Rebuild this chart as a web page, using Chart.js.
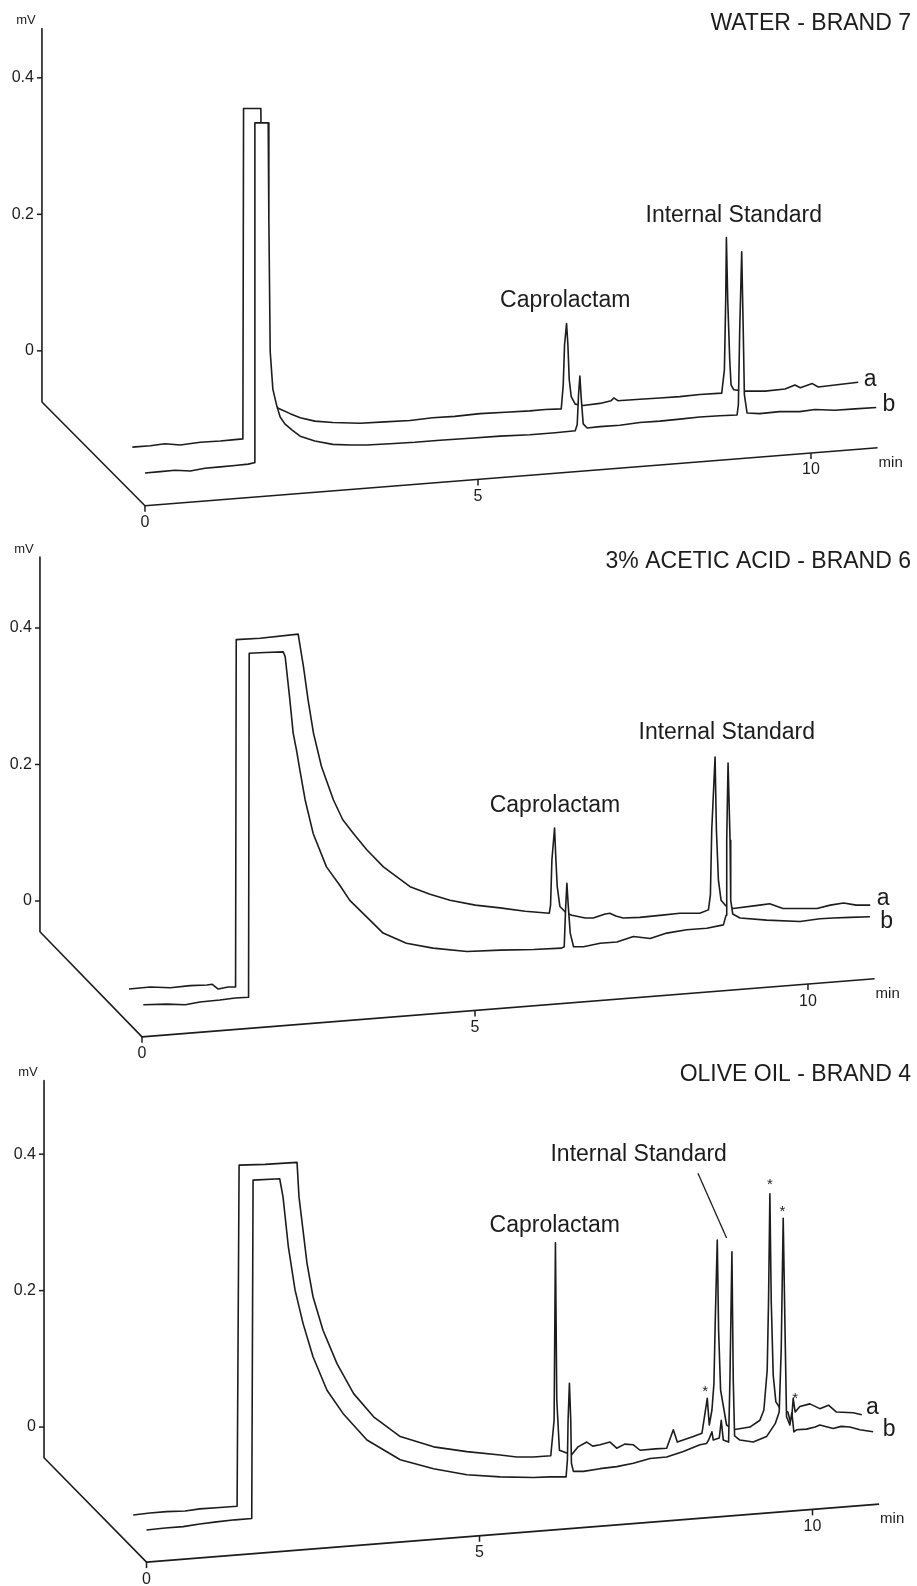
<!DOCTYPE html>
<html>
<head>
<meta charset="utf-8">
<script src="https://cdn.jsdelivr.net/npm/chart.js@4.4.0/dist/chart.umd.min.js"></script>
<style>
  html, body { margin: 0; padding: 0; background: #fff; }
  .panel { position: relative; width: 917px; }
</style>
</head>
<body>
<div class="panel" style="height:529px"><canvas id="c1"></canvas></div>
<div class="panel" style="height:529px"><canvas id="c2"></canvas></div>
<div class="panel" style="height:528px"><canvas id="c3"></canvas></div>
<script>
// chromatograms a / b, three food simulants
const INK = '#1c1c1c';
const FONT = "'Liberation Sans', Arial, Helvetica, sans-serif";

const Y_TICKS = [0, 0.2, 0.4];
const Y_TICK_LABELS = ['0', '0.2', '0.4'];
const X_TICKS = [0, 5, 10];
const X_TICK_LABELS = ['0', '5', '10'];
const PANEL_TITLES = ['WATER - BRAND 7', '3% ACETIC ACID - BRAND 6', 'OLIVE OIL - BRAND 4'];

// water - brand 7 (time in min, signal in mV)
const waterTimeA = [0.02,0.29,0.51,0.74,1.04,1.34,1.56,1.68,1.69,1.95,1.97,2.00,2.09,2.21,2.39,2.54,2.76,3.03,3.44,3.81,4.19,4.53,4.86,5.24,5.62,5.99,6.22,6.46,6.49,6.51,6.54,6.56,6.58,6.61,6.67,6.79,7.04,7.21,7.25,7.31,7.64,7.94,8.24,8.54,8.87,8.91,8.93,8.94,8.96,8.99,9.01,9.05,9.22,9.52,9.82,9.97,10.05,10.23,10.32,10.57,10.92];
const waterMvA = [-0.141,-0.139,-0.136,-0.138,-0.134,-0.132,-0.130,-0.129,0.355,0.355,0.075,-0.042,-0.072,-0.084,-0.092,-0.098,-0.103,-0.105,-0.106,-0.104,-0.102,-0.098,-0.096,-0.092,-0.090,-0.088,-0.086,-0.085,-0.050,0.009,0.040,0.009,-0.042,-0.067,-0.078,-0.080,-0.077,-0.073,-0.069,-0.073,-0.071,-0.069,-0.067,-0.064,-0.062,-0.028,0.075,0.166,0.075,-0.013,-0.050,-0.057,-0.059,-0.059,-0.056,-0.050,-0.054,-0.048,-0.053,-0.050,-0.046];
const waterTimeB = [0.00,0.23,0.45,0.68,0.90,1.13,1.35,1.55,1.64,1.65,1.85,1.86,1.88,1.92,1.98,2.03,2.10,2.21,2.33,2.55,2.82,3.08,3.33,3.68,4.05,4.43,4.88,5.33,5.78,6.16,6.46,6.49,6.51,6.53,6.55,6.58,6.64,6.83,7.13,7.43,7.73,8.03,8.33,8.63,8.89,8.91,8.93,8.96,8.98,9.00,9.04,9.23,9.53,9.83,10.06,10.36,10.66,10.98];
const waterMvB = [-0.179,-0.177,-0.175,-0.176,-0.172,-0.170,-0.168,-0.166,-0.164,0.334,0.334,0.192,-0.001,-0.056,-0.081,-0.097,-0.107,-0.116,-0.125,-0.132,-0.137,-0.138,-0.138,-0.136,-0.134,-0.131,-0.128,-0.125,-0.123,-0.120,-0.117,-0.108,-0.064,-0.037,-0.069,-0.107,-0.113,-0.111,-0.109,-0.105,-0.103,-0.100,-0.097,-0.095,-0.094,-0.079,0.031,0.145,0.045,-0.064,-0.091,-0.092,-0.089,-0.089,-0.086,-0.087,-0.085,-0.083];

// 3% acetic acid - brand 6
const acidTimeA = [0.00,0.32,0.62,0.92,1.17,1.25,1.34,1.49,1.60,1.61,1.97,2.54,2.57,2.62,2.69,2.77,2.89,3.07,3.21,3.37,3.57,3.82,4.22,4.52,4.82,5.20,5.57,5.95,6.31,6.33,6.35,6.39,6.41,6.43,6.47,6.57,6.65,6.85,6.97,7.15,7.22,7.31,7.42,7.67,7.97,8.27,8.57,8.70,8.73,8.75,8.80,8.82,8.85,8.89,8.96,9.07,9.47,9.62,9.82,10.08,10.33,10.53,10.73,10.92,11.13];
const acidMvA = [-0.129,-0.126,-0.127,-0.124,-0.123,-0.122,-0.129,-0.126,-0.126,0.383,0.385,0.391,0.373,0.343,0.294,0.246,0.197,0.148,0.119,0.099,0.075,0.050,0.021,0.010,0.001,-0.006,-0.010,-0.015,-0.018,-0.006,0.060,0.107,0.060,0.021,-0.008,-0.018,-0.021,-0.025,-0.025,-0.019,-0.018,-0.022,-0.025,-0.024,-0.021,-0.018,-0.018,-0.013,0.009,0.104,0.211,0.104,0.031,0.001,-0.007,-0.011,-0.006,-0.004,-0.011,-0.011,-0.011,-0.006,-0.003,-0.006,-0.006];
const acidTimeB = [0.02,0.37,0.65,0.87,1.17,1.40,1.60,1.61,1.85,2.12,2.15,2.22,2.27,2.32,2.37,2.45,2.57,2.77,2.97,3.12,3.35,3.62,3.97,4.37,4.88,5.38,5.88,6.30,6.34,6.36,6.38,6.40,6.43,6.48,6.63,6.88,7.13,7.38,7.63,7.88,8.18,8.48,8.73,8.77,8.78,8.80,8.83,8.84,8.87,8.98,9.38,9.88,10.18,10.38,10.63,10.93];
const acidMvB = [-0.152,-0.151,-0.152,-0.148,-0.145,-0.142,-0.141,0.363,0.364,0.365,0.358,0.295,0.246,0.221,0.192,0.148,0.099,0.050,0.023,0.001,-0.021,-0.047,-0.062,-0.069,-0.074,-0.072,-0.071,-0.069,-0.067,-0.013,0.026,-0.006,-0.047,-0.067,-0.067,-0.062,-0.060,-0.052,-0.055,-0.047,-0.042,-0.040,-0.035,-0.021,0.089,0.202,0.089,0.001,-0.019,-0.025,-0.028,-0.030,-0.026,-0.025,-0.024,-0.023];

// olive oil - brand 4
const oliveTimeA = [0.01,0.26,0.51,0.79,1.01,1.31,1.57,1.60,1.99,2.47,2.50,2.62,2.71,2.86,3.07,3.32,3.62,4.02,4.52,5.02,5.52,5.77,6.02,6.28,6.33,6.35,6.37,6.41,6.52,6.59,6.69,6.82,6.91,7.02,7.17,7.27,7.39,7.52,7.62,7.85,8.02,8.12,8.18,8.42,8.55,8.63,8.66,8.70,8.73,8.75,8.78,8.80,8.83,8.92,9.02,9.27,9.42,9.48,9.53,9.55,9.57,9.59,9.62,9.66,9.74,9.84,9.89,9.92,9.95,10.02,10.17,10.32,10.45,10.57,10.82,10.95];
const oliveMvA = [-0.129,-0.126,-0.124,-0.123,-0.120,-0.118,-0.116,0.384,0.385,0.388,0.337,0.240,0.191,0.142,0.093,0.049,0.015,-0.014,-0.029,-0.036,-0.041,-0.044,-0.044,-0.042,0.010,0.270,0.040,-0.034,-0.038,-0.041,-0.029,-0.022,-0.028,-0.026,-0.022,-0.031,-0.025,-0.026,-0.034,-0.032,-0.031,-0.004,-0.022,-0.014,-0.009,0.042,0.003,0.025,0.064,0.157,0.274,0.142,0.054,0.003,-0.004,0.000,0.010,0.025,0.084,0.186,0.342,0.186,0.076,0.037,0.025,0.022,0.003,0.042,0.022,0.030,0.034,0.027,0.032,0.022,0.021,0.018];
const oliveTimeB = [0.00,0.28,0.55,0.80,1.05,1.33,1.58,1.60,2.00,2.05,2.13,2.23,2.35,2.50,2.71,2.95,3.31,3.81,4.31,4.81,5.31,5.81,6.06,6.30,6.32,6.33,6.35,6.37,6.38,6.41,6.56,6.81,7.06,7.31,7.56,7.81,8.06,8.31,8.41,8.44,8.49,8.51,8.60,8.63,8.66,8.74,8.76,8.79,8.81,8.83,8.91,9.11,9.31,9.44,9.50,9.53,9.56,9.59,9.61,9.66,9.69,9.72,9.76,9.91,10.04,10.11,10.31,10.43,10.56,10.71,10.91];
const oliveMvB = [-0.151,-0.148,-0.146,-0.142,-0.139,-0.136,-0.134,0.362,0.364,0.337,0.264,0.201,0.152,0.103,0.054,0.020,-0.019,-0.048,-0.061,-0.070,-0.073,-0.074,-0.073,-0.073,-0.048,0.010,0.064,0.010,-0.053,-0.065,-0.065,-0.061,-0.058,-0.053,-0.046,-0.044,-0.036,-0.026,-0.024,-0.019,-0.007,-0.019,-0.016,0.010,-0.019,-0.022,0.069,0.257,0.069,-0.013,-0.019,-0.022,-0.014,0.005,0.022,0.113,0.306,0.127,0.015,0.003,0.021,-0.007,-0.004,-0.003,0.000,0.003,-0.002,0.001,0.000,-0.004,-0.007];

// frame of each pseudo-3D panel, in (min, mV) units; trace a sits one step deeper (shiftA)
const panels = [
  {
    canvas: 'c1', title: PANEL_TITLES[0], titleY: 24,
    xRange: [-2.177, 11.592], yRange: [-0.261, 0.514],
    frame: { cornerT: -1.547, topV: 0.472, cornerV: -0.075, v0: -0.227, endT: 11.0, endV: -0.142 },
    shiftA: -0.21,
    a: [waterTimeA, waterMvA], b: [waterTimeB, waterMvB],
    notes: [
      { text: 'Caprolactam', t: 6.31, v: 0.074, size: 23 },
      { text: 'Internal Standard', t: 8.84, v: 0.198, size: 23 },
      { text: 'a', t: 10.89, v: -0.042, size: 23 },
      { text: 'b', t: 11.17, v: -0.079, size: 23 }
    ],
    pointer: null
  },
  {
    canvas: 'c2', title: PANEL_TITLES[1], titleY: 33,
    xRange: [-2.132, 11.637], yRange: [-0.230, 0.545],
    frame: { cornerT: -1.532, topV: 0.504, cornerV: -0.045, v0: -0.199, endT: 11.0, endV: -0.114 },
    shiftA: -0.195,
    a: [acidTimeA, acidMvA], b: [acidTimeB, acidMvB],
    notes: [
      { text: 'Caprolactam', t: 6.20, v: 0.139, size: 23 },
      { text: 'Internal Standard', t: 8.78, v: 0.246, size: 23 },
      { text: 'a', t: 11.13, v: 0.004, size: 23 },
      { text: 'b', t: 11.18, v: -0.030, size: 23 }
    ],
    pointer: null
  },
  {
    canvas: 'c3', title: PANEL_TITLES[2], titleY: 17,
    xRange: [-2.200, 11.569], yRange: [-0.233, 0.541],
    frame: { cornerT: -1.539, topV: 0.508, cornerV: -0.045, v0: -0.198, endT: 11.0, endV: -0.113 },
    shiftA: -0.21,
    a: [oliveTimeA, oliveMvA], b: [oliveTimeB, oliveMvB],
    notes: [
      { text: 'Caprolactam', t: 6.13, v: 0.295, size: 23 },
      { text: 'Internal Standard', t: 7.39, v: 0.399, size: 23 },
      { text: 'a', t: 10.90, v: 0.028, size: 23 },
      { text: 'b', t: 11.15, v: -0.004, size: 23 },
      { text: '*', t: 8.39, v: 0.052, size: 15 },
      { text: '*', t: 9.36, v: 0.355, size: 15 },
      { text: '*', t: 9.55, v: 0.315, size: 15 },
      { text: '*', t: 9.74, v: 0.041, size: 15 }
    ],
    pointer: [{ x: 8.28, y: 0.372 }, { x: 8.71, y: 0.277 }]
  }
];

function toPoints(times, values, shift) {
  return times.map((t, i) => ({ x: t + shift, y: values[i] }));
}

function framePlugin(p) {
  return {
    id: 'frameText',
    afterDraw(chart) {
      const { ctx, scales: { x, y }, chartArea } = chart;
      const f = p.frame;
      ctx.save();
      ctx.fillStyle = INK;
      ctx.strokeStyle = INK;
      ctx.lineWidth = 1.5;

      // vertical mV axis ticks
      const axisX = x.getPixelForValue(f.cornerT);
      ctx.font = '16px ' + FONT;
      ctx.textAlign = 'right';
      ctx.textBaseline = 'middle';
      Y_TICKS.forEach((v, i) => {
        const py = y.getPixelForValue(v);
        ctx.beginPath();
        ctx.moveTo(axisX - 5, py);
        ctx.lineTo(axisX, py);
        ctx.stroke();
        ctx.fillText(Y_TICK_LABELS[i], axisX - 8, py);
      });
      ctx.font = '13px ' + FONT;
      ctx.textAlign = 'center';
      ctx.fillText('mV', axisX - 16, y.getPixelForValue(f.topV) - 8);

      // slanted time axis ticks
      ctx.font = '16px ' + FONT;
      X_TICKS.forEach((t, i) => {
        const v = f.v0 + (f.endV - f.v0) * t / f.endT;
        const px = x.getPixelForValue(t);
        const py = y.getPixelForValue(v);
        ctx.beginPath();
        ctx.moveTo(px, py);
        ctx.lineTo(px, py + 6);
        ctx.stroke();
        ctx.fillText(X_TICK_LABELS[i], px, py + 17);
      });
      ctx.font = '15px ' + FONT;
      ctx.textAlign = 'left';
      ctx.fillText('min', x.getPixelForValue(f.endT) + 1, y.getPixelForValue(f.endV) + 15);

      // peak names, trace letters, stars
      ctx.textAlign = 'center';
      p.notes.forEach(n => {
        ctx.font = n.size + 'px ' + FONT;
        ctx.fillText(n.text, x.getPixelForValue(n.t), y.getPixelForValue(n.v));
      });

      ctx.font = '23px ' + FONT;
      ctx.textAlign = 'right';
      ctx.fillText(p.title, chartArea.right - 6, chartArea.top + p.titleY);
      ctx.restore();
    }
  };
}

panels.forEach(p => {
  const f = p.frame;
  const line = { borderColor: INK, borderWidth: 1.6, pointRadius: 0, tension: 0, borderJoinStyle: 'round' };
  const datasets = [
    Object.assign({ label: 'a', data: toPoints(p.a[0], p.a[1], p.shiftA), fill: false, order: 3 }, line),
    // front trace hides what lies behind it
    Object.assign({ label: 'b', data: toPoints(p.b[0], p.b[1], 0), fill: 'start', backgroundColor: '#ffffff', order: 2 }, line),
    Object.assign({
      label: 'frame',
      data: [
        { x: f.cornerT, y: f.topV },
        { x: f.cornerT, y: f.cornerV },
        { x: 0, y: f.v0 },
        { x: f.endT, y: f.endV }
      ],
      fill: false, order: 1
    }, line)
  ];
  if (p.pointer) {
    datasets.push(Object.assign({ label: 'pointer', data: p.pointer, fill: false, order: 0 }, line, { borderWidth: 1.3 }));
  }

  new Chart(document.getElementById(p.canvas), {
    type: 'line',
    data: { datasets },
    options: {
      responsive: true,
      maintainAspectRatio: false,
      animation: false,
      layout: { padding: 0 },
      scales: {
        x: { type: 'linear', min: p.xRange[0], max: p.xRange[1], display: false },
        y: { type: 'linear', min: p.yRange[0], max: p.yRange[1], display: false }
      },
      plugins: {
        legend: { display: false },
        tooltip: { enabled: false }
      }
    },
    plugins: [framePlugin(p)]
  });
});
</script>
</body>
</html>
